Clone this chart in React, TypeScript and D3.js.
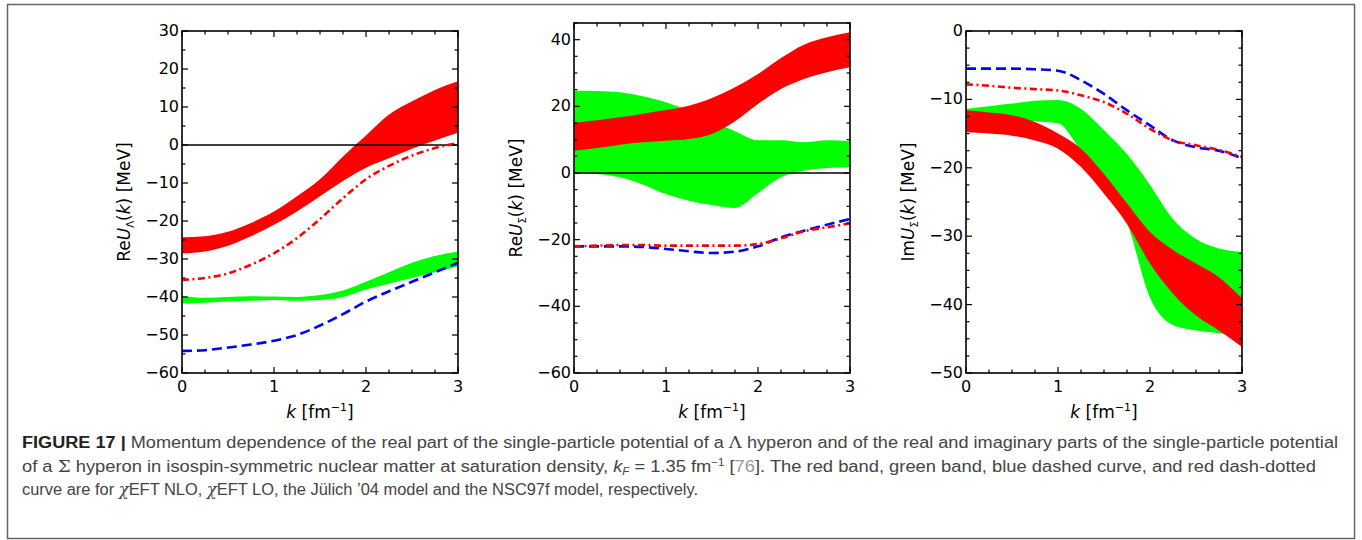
import React from "react";
import * as d3 from "d3";

// ---------- data ----------
const K = [0, 0.25, 0.5, 0.75, 1, 1.25, 1.5, 1.75, 2, 2.25, 2.5, 2.75, 3];

// Panel 1: Re U_Lambda(k)
const lamNloUpper = [-24.3, -24.0, -22.8, -20.5, -17.5, -13.5, -9.0, -3.0, 2.5, 8.0, 11.5, 14.5, 16.8];
const lamNloLower = [-28.5, -28.0, -26.5, -24.0, -21.0, -17.5, -13.5, -9.5, -6.0, -3.5, -1.0, 1.2, 3.2];
const lamLoUpper = [-39.8, -40.2, -40.0, -39.8, -39.9, -40.0, -39.5, -38.3, -36.0, -33.5, -31.0, -29.2, -28.0];
const lamLoLower = [-41.7, -41.5, -41.2, -41.0, -40.8, -41.0, -40.8, -40.0, -38.0, -36.5, -35.0, -33.5, -32.0];
const lamJuelich = [-54.2, -54.0, -53.3, -52.5, -51.5, -50.0, -47.5, -44.5, -41.2, -38.5, -36.0, -33.5, -31.0];
const lamNsc = [-35.5, -35.0, -33.8, -31.5, -28.5, -24.5, -19.5, -14.0, -9.0, -5.5, -2.8, -0.8, 0.5];

// Panel 2: Re U_Sigma(k)
const sigNloUpper = [15.0, 15.8, 16.7, 17.8, 18.9, 20.2, 22.5, 25.7, 29.7, 34.5, 38.5, 40.7, 42.2];
const sigNloLower = [6.7, 7.5, 8.5, 9.2, 9.7, 10.2, 11.7, 15.5, 20.7, 25.2, 28.2, 30.2, 31.7];
const sigLoUpper = [24.7, 24.6, 24.2, 23.0, 21.2, 18.7, 15.7, 12.5, 9.8, 9.8, 9.2, 9.8, 9.5];
const sigLoLower = [0.0, -0.3, -1.3, -3.5, -6.3, -8.3, -9.6, -10.5, -6.0, -1.3, 0.7, 1.5, 1.7];
const sigJuelich = [-22.0, -22.0, -22.0, -22.2, -22.8, -23.5, -24.0, -23.6, -22.0, -19.3, -17.3, -15.5, -13.8];
const sigNsc = [-22.0, -21.8, -21.6, -21.6, -21.8, -21.8, -21.8, -21.8, -21.3, -19.6, -17.5, -16.3, -15.1];

// Panel 3: Im U_Sigma(k)
const imNloUpper = [-11.6, -11.9, -12.3, -13.3, -15.0, -17.2, -20.9, -25.2, -29.4, -32.0, -34.0, -36.0, -39.1];
const imNloLower = [-14.8, -15.0, -15.3, -16.0, -17.2, -19.9, -23.8, -28.2, -34.0, -38.4, -41.6, -43.8, -46.2];
const imLoUpper = [-11.4, -11.0, -10.6, -10.2, -10.1, -11.4, -14.5, -18.0, -22.5, -27.5, -30.4, -31.8, -32.3];
const imLoLower = [-11.8, -12.4, -12.9, -13.2, -13.5, -17.5, -22.0, -28.0, -39.0, -43.0, -43.8, -44.2, -44.7];
const imJuelich = [-5.5, -5.5, -5.5, -5.6, -5.8, -7.2, -9.2, -11.6, -13.8, -16.0, -17.0, -17.5, -18.6];
const imNsc = [-7.8, -8.0, -8.3, -8.5, -8.7, -9.4, -10.4, -12.1, -14.3, -16.0, -16.7, -17.4, -18.4];

// tick labels
const X_TICKS = [0, 1, 2, 3];
const Y1_TICKS = [-60, -50, -40, -30, -20, -10, 0, 10, 20, 30];
const Y2_TICKS = [-60, -40, -20, 0, 20, 40];
const Y3_TICKS = [-50, -40, -30, -20, -10, 0];

// ---------- styles ----------
const RED = "#ff0000";
const GREEN = "#00ff00";
const BLUE = "#0000ff";
const AX_FONT = "'DejaVu Sans', sans-serif";
const CAP_FONT = "'Liberation Sans', Arial, sans-serif";
const SERIF = "'DejaVu Serif', 'Liberation Serif', serif";

type Band = { lo: number[]; hi: number[]; color: string };
type Curve = { v: number[]; color: string; dash: string };

function fmt(v: number) {
  return v < 0 ? "\u2212" + Math.abs(v) : String(v);
}

function Panel(props: {
  id: string;
  left: number;
  right: number;
  top: number;
  bottom: number;
  yDomain: [number, number];
  yTicks: number[];
  yMinor: number;
  bands: Band[];
  curves: Curve[];
  zero: boolean;
  ylabel: React.ReactNode;
}) {
  const { id, left, right, top, bottom, yDomain, yTicks, yMinor, bands, curves, zero, ylabel } = props;
  const x = d3.scaleLinear().domain([0, 3]).range([left, right]);
  const y = d3.scaleLinear().domain(yDomain).range([bottom, top]);
  const area = d3
    .area<number>()
    .x((_, i) => x(K[i]))
    .curve(d3.curveMonotoneX);
  const line = d3
    .line<number>()
    .x((_, i) => x(K[i]))
    .y((d) => y(d))
    .curve(d3.curveMonotoneX);

  const xMinor = d3.range(0, 3.0001, 0.25);
  const yMinorT = d3.range(yDomain[0], yDomain[1] + 0.0001, yMinor);
  const MAJ = 6;
  const MIN = 3.5;
  const isMajX = (v: number) => X_TICKS.some((t) => Math.abs(t - v) < 1e-6);
  const isMajY = (v: number) => yTicks.some((t) => Math.abs(t - v) < 1e-6);

  return (
    <g>
      <defs>
        <clipPath id={"clip" + id}>
          <rect x={left} y={top} width={right - left} height={bottom - top} />
        </clipPath>
      </defs>
      <g clipPath={`url(#clip${id})`}>
        {bands.map((b, i) => (
          <path
            key={"b" + i}
            d={area.y0((_, j) => y(b.lo[j])).y1((d) => y(d))(b.hi) || ""}
            fill={b.color}
            stroke="none"
          />
        ))}
        {zero && (
          <line x1={left} x2={right} y1={y(0)} y2={y(0)} stroke="#000" strokeWidth={1.5} />
        )}
        {curves.map((c, i) => (
          <path
            key={"c" + i}
            d={line(c.v) || ""}
            fill="none"
            stroke={c.color}
            strokeWidth={2.6}
            strokeDasharray={c.dash}
          />
        ))}
      </g>
      {xMinor.map((v, i) => {
        const L = isMajX(v) ? MAJ : MIN;
        return (
          <g key={"xt" + i} stroke="#000" strokeWidth={1.2}>
            <line x1={x(v)} x2={x(v)} y1={bottom} y2={bottom - L} />
            <line x1={x(v)} x2={x(v)} y1={top} y2={top + L} />
          </g>
        );
      })}
      {yMinorT.map((v, i) => {
        const L = isMajY(v) ? MAJ : MIN;
        return (
          <g key={"yt" + i} stroke="#000" strokeWidth={1.2}>
            <line x1={left} x2={left + L} y1={y(v)} y2={y(v)} />
            <line x1={right} x2={right - L} y1={y(v)} y2={y(v)} />
          </g>
        );
      })}
      <rect
        x={left}
        y={top}
        width={right - left}
        height={bottom - top}
        fill="none"
        stroke="#000"
        strokeWidth={1.6}
      />
      {X_TICKS.map((v) => (
        <text
          key={"xl" + v}
          x={x(v)}
          y={bottom + 19}
          textAnchor="middle"
          fontFamily={AX_FONT}
          fontSize={16}
          fill="#000"
        >
          {fmt(v)}
        </text>
      ))}
      {yTicks.map((v) => (
        <text
          key={"yl" + v}
          x={left - 3}
          y={y(v) + 5}
          textAnchor="end"
          fontFamily={AX_FONT}
          fontSize={16}
          fill="#000"
        >
          {fmt(v)}
        </text>
      ))}
      <text
        x={(left + right) / 2}
        y={bottom + 45}
        textAnchor="middle"
        fontFamily={AX_FONT}
        fontSize={17}
        fill="#000"
      >
        <tspan fontStyle="italic">k</tspan>
        <tspan> [fm</tspan>
        <tspan fontSize={11} dy={-7}>
          {"\u22121"}
        </tspan>
        <tspan dy={7}>]</tspan>
      </text>
      <text
        transform={`translate(${left - 52},${(top + bottom) / 2}) rotate(-90)`}
        textAnchor="middle"
        fontFamily={AX_FONT}
        fontSize={17}
        fill="#000"
      >
        {ylabel}
      </text>
    </g>
  );
}

function YLab(props: { pre: string; sub: string }) {
  return (
    <>
      <tspan>{props.pre}</tspan>
      <tspan fontStyle="italic">U</tspan>
      <tspan fontSize={10} dy={4}>
        {props.sub}
      </tspan>
      <tspan dy={-4}>(</tspan>
      <tspan fontStyle="italic">k</tspan>
      <tspan>) [MeV]</tspan>
    </>
  );
}

export default function App() {
  return (
    <svg
      width={1362}
      height={540}
      viewBox="0 0 1362 540"
      style={{ position: "absolute", left: 0, top: 0, background: "#fff" }}
    >
      <rect x={0} y={0} width={1362} height={540} fill="#fff" />
      <rect x={7.5} y={4.5} width={1347} height={534} fill="none" stroke="#666" strokeWidth={1.5} />

      <Panel
        id="p1"
        left={182}
        right={458}
        top={31}
        bottom={373}
        yDomain={[-60, 30]}
        yTicks={Y1_TICKS}
        yMinor={5}
        bands={[
          { lo: lamLoLower, hi: lamLoUpper, color: GREEN },
          { lo: lamNloLower, hi: lamNloUpper, color: RED },
        ]}
        curves={[
          { v: lamJuelich, color: BLUE, dash: "10,5" },
          { v: lamNsc, color: RED, dash: "7,3.5,2,3.5" },
        ]}
        zero={true}
        ylabel={<YLab pre="Re" sub={"\u039B"} />}
      />
      <Panel
        id="p2"
        left={574}
        right={850}
        top={23}
        bottom={373}
        yDomain={[-60, 45]}
        yTicks={Y2_TICKS}
        yMinor={5}
        bands={[
          { lo: sigLoLower, hi: sigLoUpper, color: GREEN },
          { lo: sigNloLower, hi: sigNloUpper, color: RED },
        ]}
        curves={[
          { v: sigJuelich, color: BLUE, dash: "10,5" },
          { v: sigNsc, color: RED, dash: "7,3.5,2,3.5" },
        ]}
        zero={true}
        ylabel={<YLab pre="Re" sub={"\u03A3"} />}
      />
      <Panel
        id="p3"
        left={966}
        right={1242}
        top={31}
        bottom={373}
        yDomain={[-50, 0]}
        yTicks={Y3_TICKS}
        yMinor={2.5}
        bands={[
          { lo: imLoLower, hi: imLoUpper, color: GREEN },
          { lo: imNloLower, hi: imNloUpper, color: RED },
        ]}
        curves={[
          { v: imJuelich, color: BLUE, dash: "10,5" },
          { v: imNsc, color: RED, dash: "7,3.5,2,3.5" },
        ]}
        zero={false}
        ylabel={<YLab pre="Im" sub={"\u03A3"} />}
      />

      <g fontFamily={CAP_FONT} fontSize={16} fill="#444">
        <text x={22} y={448} textLength={1316} lengthAdjust="spacingAndGlyphs">
          <tspan fontWeight="bold" fill="#222">
            FIGURE 17 |
          </tspan>
          <tspan>
            {" "}Momentum dependence of the real part of the single-particle potential of a{" "}
          </tspan>
          <tspan fontFamily={SERIF}>{"\u039B"}</tspan>
          <tspan>
            {" "}hyperon and of the real and imaginary parts of the single-particle potential
          </tspan>
        </text>
        <text x={22} y={472} textLength={1294} lengthAdjust="spacingAndGlyphs">
          <tspan>of a </tspan>
          <tspan fontFamily={SERIF}>{"\u03A3"}</tspan>
          <tspan> hyperon in isospin-symmetric nuclear matter at saturation density, </tspan>
          <tspan fontStyle="italic">k</tspan>
          <tspan fontSize={10} dy={3} fontStyle="italic">
            F
          </tspan>
          <tspan dy={-3}> = 1.35 fm</tspan>
          <tspan fontSize={10} dy={-6}>
            {"\u22121"}
          </tspan>
          <tspan dy={6}> [</tspan>
          <tspan fill="#999">76</tspan>
          <tspan>]. The red band, green band, blue dashed curve, and red dash-dotted</tspan>
        </text>
        <text x={22} y={495} textLength={676} lengthAdjust="spacingAndGlyphs">
          <tspan>curve are for </tspan>
          <tspan fontFamily={SERIF} fontStyle="italic">
            {"\u03C7"}
          </tspan>
          <tspan>EFT NLO, </tspan>
          <tspan fontFamily={SERIF} fontStyle="italic">
            {"\u03C7"}
          </tspan>
          <tspan>EFT LO, the Jülich ’04 model and the NSC97f model, respectively.</tspan>
        </text>
      </g>
    </svg>
  );
}
